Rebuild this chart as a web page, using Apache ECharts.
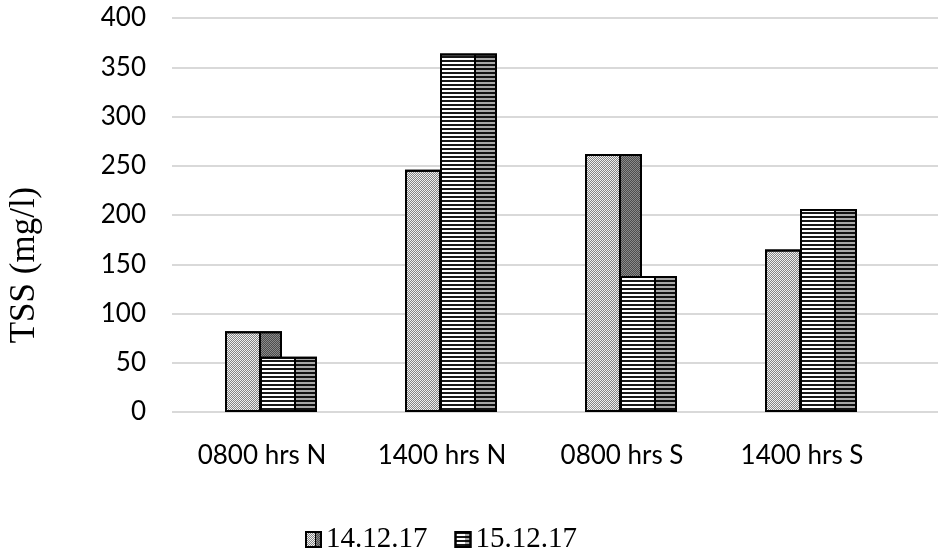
<!DOCTYPE html>
<html><head><meta charset="utf-8">
<script src="https://cdn.jsdelivr.net/npm/echarts@6/dist/echarts.min.js"></script>
<style>html,body{margin:0;padding:0;background:#fff}#c{width:938px;height:552px}</style>
</head><body><div id="c"></div>
<script>
const categories = ['0800 hrs N', '1400 hrs N', '0800 hrs S', '1400 hrs S', ''];
const tss141217 = [82, 246, 262, 165, '-'];
const tss151217 = [56, 364, 138, 206, '-'];
const seriesNames = ['14.12.17', '15.12.17'];
const yMin = 0, yMax = 400, yInterval = 50;
const yTitle = 'TSS (mg/l)';

function face(light, dark) {
  return { type: 'linear', x: 0, y: 0, x2: 1, y2: 0, colorStops: [
    { offset: 0, color: light }, { offset: 0.6, color: light },
    { offset: 0.6, color: '#000' }, { offset: 0.635, color: '#000' },
    { offset: 0.635, color: dark }, { offset: 1, color: dark } ] };
}
const chart = echarts.init(document.getElementById('c'));
chart.setOption({
  animation: false,
  backgroundColor: '#fff',
  grid: { left: 172, top: 18, width: 900, bottom: 140, containLabel: false, outerBoundsMode: 'none' },
  xAxis: { type: 'category', data: categories,
    axisLine: { show: false }, axisTick: { show: false },
    axisLabel: { interval: 0, margin: 31, fontFamily: 'Lato', fontSize: 26, color: '#000' } },
  yAxis: { type: 'value', min: yMin, max: yMax, interval: yInterval,
    axisLine: { show: false }, axisTick: { show: false },
    axisLabel: { margin: 26, fontFamily: 'Lato', fontSize: 26, color: '#000' },
    splitLine: { lineStyle: { color: '#d9d9d9', width: 2 } } },
  legend: { data: seriesNames, left: 300, top: 520, itemWidth: 15, itemHeight: 15, itemGap: 27,
    icon: 'rect', textStyle: { fontFamily: 'Liberation Serif', fontSize: 29, color: '#000' } },
  graphic: [{ type: 'text', x: 25, y: 265, rotation: Math.PI / 2,
    style: { text: yTitle, fontFamily: 'Liberation Serif', fontSize: 35, fill: '#000', align: 'center', verticalAlign: 'middle' } }],
  series: [
    { name: seriesNames[0], type: 'bar', data: tss141217, barWidth: 57, barGap: '-38.6%',
      itemStyle: { color: face('#f0f0f0', '#8a8a8a'), borderColor: '#000', borderWidth: 2,
        decal: { symbol: 'rect', symbolSize: 1, dashArrayX: [[1, 1], [0, 1, 1, 0]], dashArrayY: [1, 0], color: 'rgba(0,0,0,0.45)' } } },
    { name: seriesNames[1], type: 'bar', data: tss151217, barWidth: 57, barGap: '-38.6%',
      itemStyle: { color: face('#ffffff', '#a8a8a8'), borderColor: '#000', borderWidth: 2,
        decal: { symbol: 'rect', symbolSize: 1, dashArrayX: [1, 0], dashArrayY: [2, 2], color: 'rgba(0,0,0,0.9)' } } },
    { name: 'spacer', type: 'bar', data: ['-', '-', '-', '-', '-'], barWidth: 4, barGap: '-38.6%', silent: true }
  ]
});
</script></body></html>
